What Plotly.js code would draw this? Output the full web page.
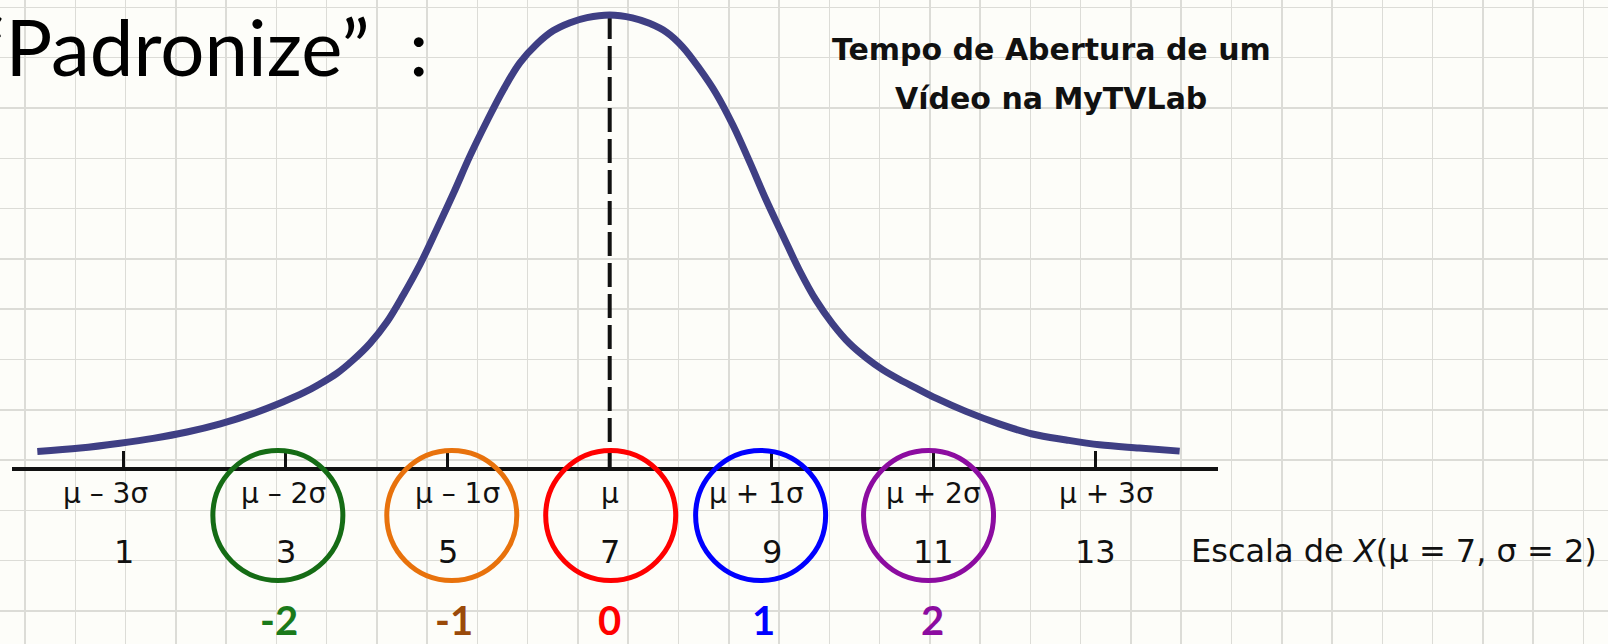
<!DOCTYPE html>
<html>
<head>
<meta charset="utf-8">
<script src="https://cdn.plot.ly/plotly-3.0.1.min.js"></script>
<style>
  html, body { margin: 0; padding: 0; background: #fdfdf9; }
  #chart { width: 1608px; height: 644px; }
</style>
</head>
<body>
<div id="chart"></div>
<script>
// ---- Data -------------------------------------------------------------
// X scale of the video opening time (mu = 7, sigma = 2)
const MU = 7;
const SIGMA = 2;
const xTicks = [1, 3, 5, 7, 9, 11, 13];
const sigmaLabels = ['μ – 3σ', 'μ – 2σ', 'μ – 1σ', 'μ', 'μ + 1σ', 'μ + 2σ', 'μ + 3σ'];
const xTickText = ['1', '3', '5', '7', '9', '11', '13'];

// Circled X values and their standardized scores Z
const circledX = [3, 5, 7, 9, 11];
const zText = ['-2', '-1', '0', '1', '2'];

// Bell curve of the opening time, sampled along the X scale
const curveX = [-0.07, 0.46, 0.95, 1.36, 1.78, 2.19, 2.60, 2.97, 3.22, 3.42, 3.63, 3.83,
                4.04, 4.25, 4.45, 4.66, 4.86, 5.07, 5.27, 5.48, 5.69, 5.89, 6.10,
                6.30, 6.51, 6.72, 7.00, 7.28, 7.49, 7.70, 7.90, 8.11, 8.31, 8.52,
                8.73, 8.93, 9.14, 9.34, 9.55, 9.75, 9.96, 10.17, 10.37, 10.58, 10.78,
                11.03, 11.40, 11.81, 12.22, 12.64, 13.05, 13.54, 14.04];
const curveY = [0.0002, 0.0018, 0.0040, 0.0062, 0.0091, 0.0128, 0.0176, 0.0229, 0.0270, 0.0310, 0.0358, 0.0419,
                0.0495, 0.0593, 0.0715, 0.0856, 0.1011, 0.1178, 0.1345, 0.1504, 0.1652, 0.1772, 0.1858,
                0.1918, 0.1955, 0.1978, 0.1990, 0.1977, 0.1952, 0.1912, 0.1845, 0.1745, 0.1635, 0.1490,
                0.1320, 0.1150, 0.0985, 0.0830, 0.0690, 0.0585, 0.0495, 0.0428, 0.0375, 0.0330, 0.0292,
                0.0245, 0.0185, 0.0128, 0.0082, 0.0055, 0.0033, 0.0018, 0.0004];

// ---- Styling ----------------------------------------------------------
const W = 1608, H = 644;
const INK = '#111111';
const CURVE_COLOR = '#3f3f84';
const circleColors = ['#156c15', '#e8720c', '#ff0000', '#0000ff', '#8c0ca0'];
const zTextColors  = ['#1b7a1b', '#9a4a0a', '#ff0000', '#0000ff', '#8c0ca0'];
// small horizontal nudges (px) of the hand placed labels and rings
const sigmaLabelShift = [-18, -2, 10, 0, -15, 0, 11];
const circleShift = [-8, 4, 1, -11, -5];
const zTextShift = [-7, 6, 0, -8, -1];

// plot frame of the X scale, in page pixels
const AXIS_LEFT = 12, AXIS_RIGHT = 1218, AXIS_LINE_PX = 469, AXIS_LW = 3.5;
const PX_PER_UNIT = 80.96, MU_PX = 609.7;
const CURVE_BASE_PX = 452, PEAK_PX = 15;

const peak = Math.max(...curveY);
const yPxPerUnit = (CURVE_BASE_PX - PEAK_PX) / peak;
const domainBottomPx = AXIS_LINE_PX - AXIS_LW / 2;
const yBottom = -(domainBottomPx - CURVE_BASE_PX) / yPxPerUnit;
const yTop = CURVE_BASE_PX / yPxPerUnit;
const xLeft = MU + (AXIS_LEFT - MU_PX) / PX_PER_UNIT;
const xRight = MU + (AXIS_RIGHT - MU_PX) / PX_PER_UNIT;

const rowY = px => 1 - px / H;   // page row (px from top) -> paper y

// ---- Traces -----------------------------------------------------------
const traces = [
  {
    // empty trace that keeps the squared-paper subplot on the page
    x: [], y: [], xaxis: 'x', yaxis: 'y', type: 'scatter', mode: 'markers', hoverinfo: 'skip'
  },
  {
    // mean marker: dashed vertical from the top of the curve down to the scale
    x: [MU, MU], y: [peak, yBottom],
    xaxis: 'x2', yaxis: 'y2', mode: 'lines', hoverinfo: 'skip',
    line: { color: INK, width: 4, dash: '24px,7px' }
  },
  {
    x: curveX, y: curveY,
    xaxis: 'x2', yaxis: 'y2', mode: 'lines', hoverinfo: 'skip',
    line: { color: CURVE_COLOR, width: 7, shape: 'spline', smoothing: 1 }
  }
];

// ---- Text -------------------------------------------------------------
const annotations = [];
const textbookFont = 'DejaVu Sans';

annotations.push({
  xref: 'paper', yref: 'paper', x: -25 / W, y: rowY(46), xanchor: 'left', yanchor: 'middle',
  text: '“Padronize”\u00a0 :', showarrow: false,
  font: { family: 'Lato', size: 78, color: '#000000' }
});
annotations.push({
  xref: 'paper', yref: 'paper', x: 1051 / W, y: rowY(49), xanchor: 'center', yanchor: 'middle',
  text: 'Tempo de Abertura de um', showarrow: false,
  font: { family: textbookFont, size: 30, weight: 700, color: INK }
});
annotations.push({
  xref: 'paper', yref: 'paper', x: 1051 / W, y: rowY(98), xanchor: 'center', yanchor: 'middle',
  text: 'Vídeo na MyTVLab', showarrow: false,
  font: { family: textbookFont, size: 30, weight: 700, color: INK }
});

xTicks.forEach((v, i) => {
  annotations.push({
    xref: 'x2', yref: 'paper', x: v, y: rowY(494), xanchor: 'center', yanchor: 'middle',
    xshift: sigmaLabelShift[i], text: sigmaLabels[i], showarrow: false,
    font: { family: textbookFont, size: 28, color: INK }
  });
  annotations.push({
    xref: 'x2', yref: 'paper', x: v, y: rowY(552), xanchor: 'center', yanchor: 'middle',
    text: xTickText[i], showarrow: false,
    font: { family: textbookFont, size: 32, color: INK }
  });
});

annotations.push({
  xref: 'paper', yref: 'paper', x: 1189 / W, y: rowY(551), xanchor: 'left', yanchor: 'middle',
  text: 'Escala de <i>X</i>(μ = 7, σ = ' + SIGMA + ')', showarrow: false,
  font: { family: textbookFont, size: 32, color: INK }
});

circledX.forEach((v, i) => {
  annotations.push({
    xref: 'x2', yref: 'paper', x: v, y: rowY(620), xanchor: 'center', yanchor: 'middle',
    xshift: zTextShift[i], text: zText[i], showarrow: false,
    font: { family: 'Lato', size: 40, weight: 700, color: zTextColors[i] }
  });
});

// ---- Rings around the standardized points -----------------------------
const RING_R = 65;
const shapes = circledX.map((v, i) => ({
  type: 'circle', layer: 'above',
  xref: 'x2', xsizemode: 'pixel', xanchor: v,
  x0: -RING_R + circleShift[i], x1: RING_R + circleShift[i],
  yref: 'paper', ysizemode: 'pixel', yanchor: rowY(515.5),
  y0: -RING_R, y1: RING_R,
  line: { color: circleColors[i], width: 5 }
}));

// ---- Layout -----------------------------------------------------------
const gridAxis = {
  domain: [0, 1], showgrid: true, gridcolor: '#dcdcd7', gridwidth: 1.5,
  zeroline: false, showline: false, ticks: '', showticklabels: false, fixedrange: true
};

const layout = {
  width: W, height: H,
  margin: { l: 0, r: 0, t: 0, b: 0, pad: 0 },
  paper_bgcolor: '#fdfdf9', plot_bgcolor: 'rgba(0,0,0,0)',
  showlegend: false, hovermode: false,
  // squared notebook paper behind the figure
  xaxis: Object.assign({}, gridAxis, { range: [0, W], tick0: 25, dtick: 50.27, anchor: 'y' }),
  yaxis: Object.assign({}, gridAxis, { range: [H, 0], tick0: 7.4, dtick: 50.3, anchor: 'x' }),
  // X scale with its sigma ticks
  xaxis2: {
    domain: [AXIS_LEFT / W, AXIS_RIGHT / W], anchor: 'y2',
    range: [xLeft, xRight], showgrid: false, zeroline: false,
    showline: true, linecolor: INK, linewidth: AXIS_LW,
    ticks: 'inside', ticklen: 16, tickwidth: 3, tickcolor: INK,
    tickmode: 'array', tickvals: xTicks, showticklabels: false, fixedrange: true
  },
  yaxis2: {
    domain: [1 - domainBottomPx / H, 1], anchor: 'x2',
    range: [yBottom, yTop], visible: false, fixedrange: true
  },
  annotations: annotations,
  shapes: shapes
};

Plotly.newPlot('chart', traces, layout, { staticPlot: true, displayModeBar: false });
</script>
</body>
</html>
